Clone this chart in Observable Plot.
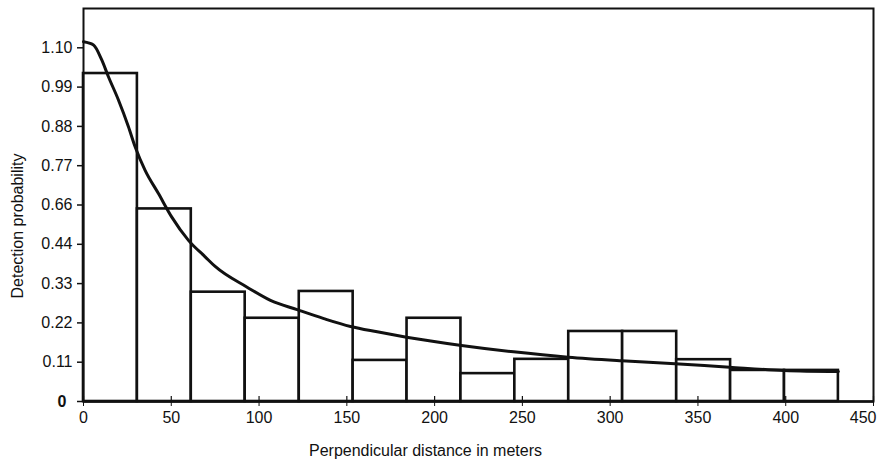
<!DOCTYPE html>
<html>
<head>
<meta charset="utf-8">
<script src="https://cdn.jsdelivr.net/npm/d3@7"></script>
<script src="https://cdn.jsdelivr.net/npm/@observablehq/plot@0.6"></script>
<style>
  html, body { margin: 0; padding: 0; background: #fff; }
  #chart svg { display: block; }
</style>
</head>
<body>
<div id="chart"></div>
<script>
// Histogram bins (perpendicular distance, m)
const binStart = [0, 30.7, 61.4, 92.1, 122.9, 153.6, 184.3, 215, 245.7, 276.4, 307.1, 337.9, 368.6, 399.3];
const binEnd   = [30.7, 61.4, 92.1, 122.9, 153.6, 184.3, 215, 245.7, 276.4, 307.1, 337.9, 368.6, 399.3, 430];
// Bar heights, in the axis's evenly spaced units (one tick step = 0.11)
const binHeight = [0.918, 0.539, 0.306, 0.233, 0.308, 0.115, 0.233, 0.078, 0.118, 0.196, 0.196, 0.117, 0.087, 0.087];

// Fitted detection function
const curveX = [0, 5.7, 10.4, 14.2, 19.9, 25.6, 29.4, 35.1, 42.7, 50.3, 59.8, 69.3, 75, 93.2, 106.5, 121.7, 136.9, 152.1, 167.3, 184, 215.3, 245, 276, 306.5, 337, 368, 399, 430];
const curveY = [1.007, 0.998, 0.956, 0.909, 0.844, 0.769, 0.713, 0.647, 0.582, 0.516, 0.451, 0.405, 0.378, 0.320, 0.283, 0.257, 0.232, 0.210, 0.195, 0.180, 0.157, 0.139, 0.124, 0.114, 0.106, 0.096, 0.087, 0.084];

// Axis ticks (the original axis labels skip 0.55)
const yTickPos = [0, 0.11, 0.22, 0.33, 0.44, 0.55, 0.66, 0.77, 0.88, 0.99];
const yTickLabels = ["0", "0.11", "0.22", "0.33", "0.44", "0.66", "0.77", "0.88", "0.99", "1.10"];
const xTicks = [0, 50, 100, 150, 200, 250, 300, 350, 400, 450];

const bins = binStart.map((s, i) => ({x1: s, x2: binEnd[i], y: binHeight[i]}));
const curve = curveX.map((x, i) => ({x, y: curveY[i]}));

const chart = Plot.plot({
  width: 878,
  height: 463,
  marginLeft: 83,
  marginRight: 5,
  marginTop: 8,
  marginBottom: 62,
  style: {fontFamily: "'Liberation Sans', Arial, sans-serif", fontSize: "16px", color: "#111", background: "#fff"},
  x: {domain: [0, 450]},
  y: {domain: [0, 1.10]},
  marks: [
    Plot.rectY(bins, {x1: "x1", x2: "x2", y: "y", fill: "#fff", stroke: "#111", strokeWidth: 2.6}),
    Plot.line(curve, {x: "x", y: "y", stroke: "#111", strokeWidth: 3, curve: "monotone-x"}),
    Plot.frame({stroke: "#111", strokeWidth: 2}),
    Plot.ruleY([0], {stroke: "#111", strokeWidth: 2.5}),
    Plot.ruleX(xTicks, {y1: 0, y2: 0.014, stroke: "#111", strokeWidth: 1.2}),
    Plot.axisX({ticks: xTicks, tickSize: 5, tickPadding: 5, tickFormat: d => String(d), fontSize: 16, label: null}),
    Plot.axisY({ticks: yTickPos, tickSize: 6, tickPadding: 5, tickFormat: (d, i) => yTickLabels[i], fontSize: 16, label: null, strokeWidth: 1.5}),
    Plot.text(["Perpendicular distance in meters"], {frameAnchor: "bottom", dx: -53, dy: 54, fontSize: 16}),
    Plot.text(["Detection probability"], {frameAnchor: "left", textAnchor: "middle", dx: -66, dy: 21, rotate: -90, fontSize: 16})
  ]
});
document.getElementById("chart").appendChild(chart);

// The original draws the "0" y label in bold, a little further left
d3.select(chart).selectAll("[aria-label='y-axis tick label'] text")
  .filter(function() { return this.textContent === "0"; })
  .attr("font-weight", "bold")
  .attr("dx", -6);
// The last x label sits left of its tick so it stays inside the picture
d3.select(chart).selectAll("[aria-label='x-axis tick label'] text")
  .filter(function() { return this.textContent === "450"; })
  .attr("text-anchor", "end")
  .attr("dx", 3);
</script>
</body>
</html>
